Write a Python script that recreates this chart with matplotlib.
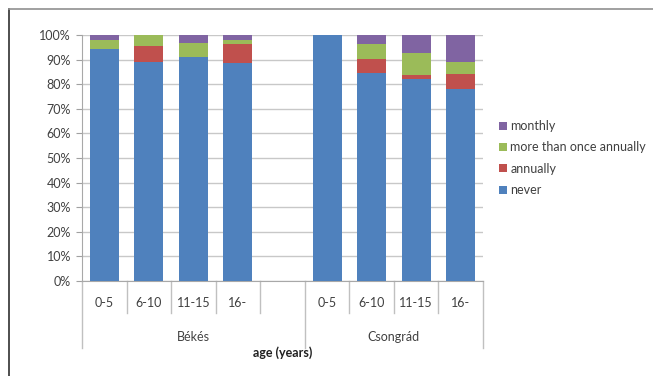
import matplotlib.pyplot as plt
import numpy as np
from matplotlib.patches import Patch
from matplotlib.lines import Line2D

plt.rcParams['font.family'] = ['Lato', 'DejaVu Sans']

# age groups per county, one empty slot between the two counties
counties = ['Békés', 'Csongrád']
ages = ['0-5', '6-10', '11-15', '16-']

# shares (%) per age group, Békés first then Csongrád
never = [94.2, 89.0, 91.0, 88.5, 100.0, 84.4, 82.1, 78.0]
annually = [0.0, 6.6, 0.0, 8.0, 0.0, 5.8, 1.5, 6.2]
more_than_once = [3.8, 4.4, 5.7, 1.5, 0.0, 6.1, 9.0, 4.8]
monthly = [2.0, 0.0, 3.3, 2.0, 0.0, 3.7, 7.4, 11.0]

colors = {'never': '#4F81BD', 'annually': '#C0504D',
          'more than once annually': '#9BBB59', 'monthly': '#8064A2'}

W, H = 653, 376
fig = plt.figure(figsize=(W / 100, H / 100), dpi=100)
ax = fig.add_axes([82 / W, (H - 281) / H, (483 - 82) / W, (281 - 35) / H])

slots = [0, 1, 2, 3, 5, 6, 7, 8]
bottom = np.zeros(len(slots))
for name, vals in [('never', never), ('annually', annually),
                   ('more than once annually', more_than_once), ('monthly', monthly)]:
    v = np.array(vals) / 100
    ax.bar(slots, v, bottom=bottom, width=0.65, color=colors[name], zorder=3)
    bottom += v

ax.set_xlim(-0.5, 8.5)
ax.set_ylim(0, 1)
ax.set_yticks(np.arange(0, 1.01, 0.1))
ax.set_yticklabels([f'{int(round(t * 100))}%' for t in np.arange(0, 1.01, 0.1)],
                   fontsize=9, color='#404040')
ax.tick_params(axis='y', length=4, color='#A0A0A0', pad=4)
ax.set_xticks([])
ax.grid(axis='y', color='#C8C8C8', linewidth=1, zorder=0)
for s in ['top', 'right']:
    ax.spines[s].set_visible(False)
for s in ['left', 'bottom']:
    ax.spines[s].set_color('#A8A8A8')

# two-level category axis
tr = ax.get_xaxis_transform()
px = 1 / (281 - 35)
inner_low = -(313 - 281) * px
outer_low = -(348 - 281) * px
for b in [0.5, 1.5, 2.5, 3.5, 5.5, 6.5, 7.5]:
    ax.add_line(Line2D([b, b], [0, inner_low], transform=tr, color='#C0C0C0',
                       lw=1, clip_on=False))
for b in [-0.5, 4.5, 8.5]:
    ax.add_line(Line2D([b, b], [0, outer_low], transform=tr, color='#C0C0C0',
                       lw=1, clip_on=False))
for i, s in enumerate(slots):
    ax.text(s, -(303 - 281) * px, ages[i % 4], transform=tr, ha='center',
            va='center', fontsize=9, color='#404040')
ax.text(2.0, -(337 - 281) * px, counties[0], transform=tr, ha='center',
        va='center', fontsize=9, color='#404040')
ax.text(6.5, -(337 - 281) * px, counties[1], transform=tr, ha='center',
        va='center', fontsize=9, color='#404040')
ax.text(4.0, -(353 - 281) * px, 'age (years)', transform=tr, ha='center',
        va='center', fontsize=9, fontweight='bold', color='#202020')

# legend, top entry is the last stacked series
names = ['monthly', 'more than once annually', 'annually', 'never']
handles = [Patch(facecolor=colors[n]) for n in names]
fig.legend(handles, names, loc='upper left',
           bbox_to_anchor=(494 / W, (H - 115) / H), frameon=False,
           fontsize=9, handlelength=0.6, handleheight=0.6, handletextpad=0.3,
           labelspacing=0.75, labelcolor='#404040', borderaxespad=0)

# outer chart frame
fig.add_artist(Line2D([8.5 / W, 8.5 / W], [0, (H - 8.5) / H], color='#303030', lw=1.2))
fig.add_artist(Line2D([8.5 / W, 1], [(H - 8.5) / H, (H - 8.5) / H], color='#909090', lw=1.2))

fig.savefig('out.png', dpi=100)
